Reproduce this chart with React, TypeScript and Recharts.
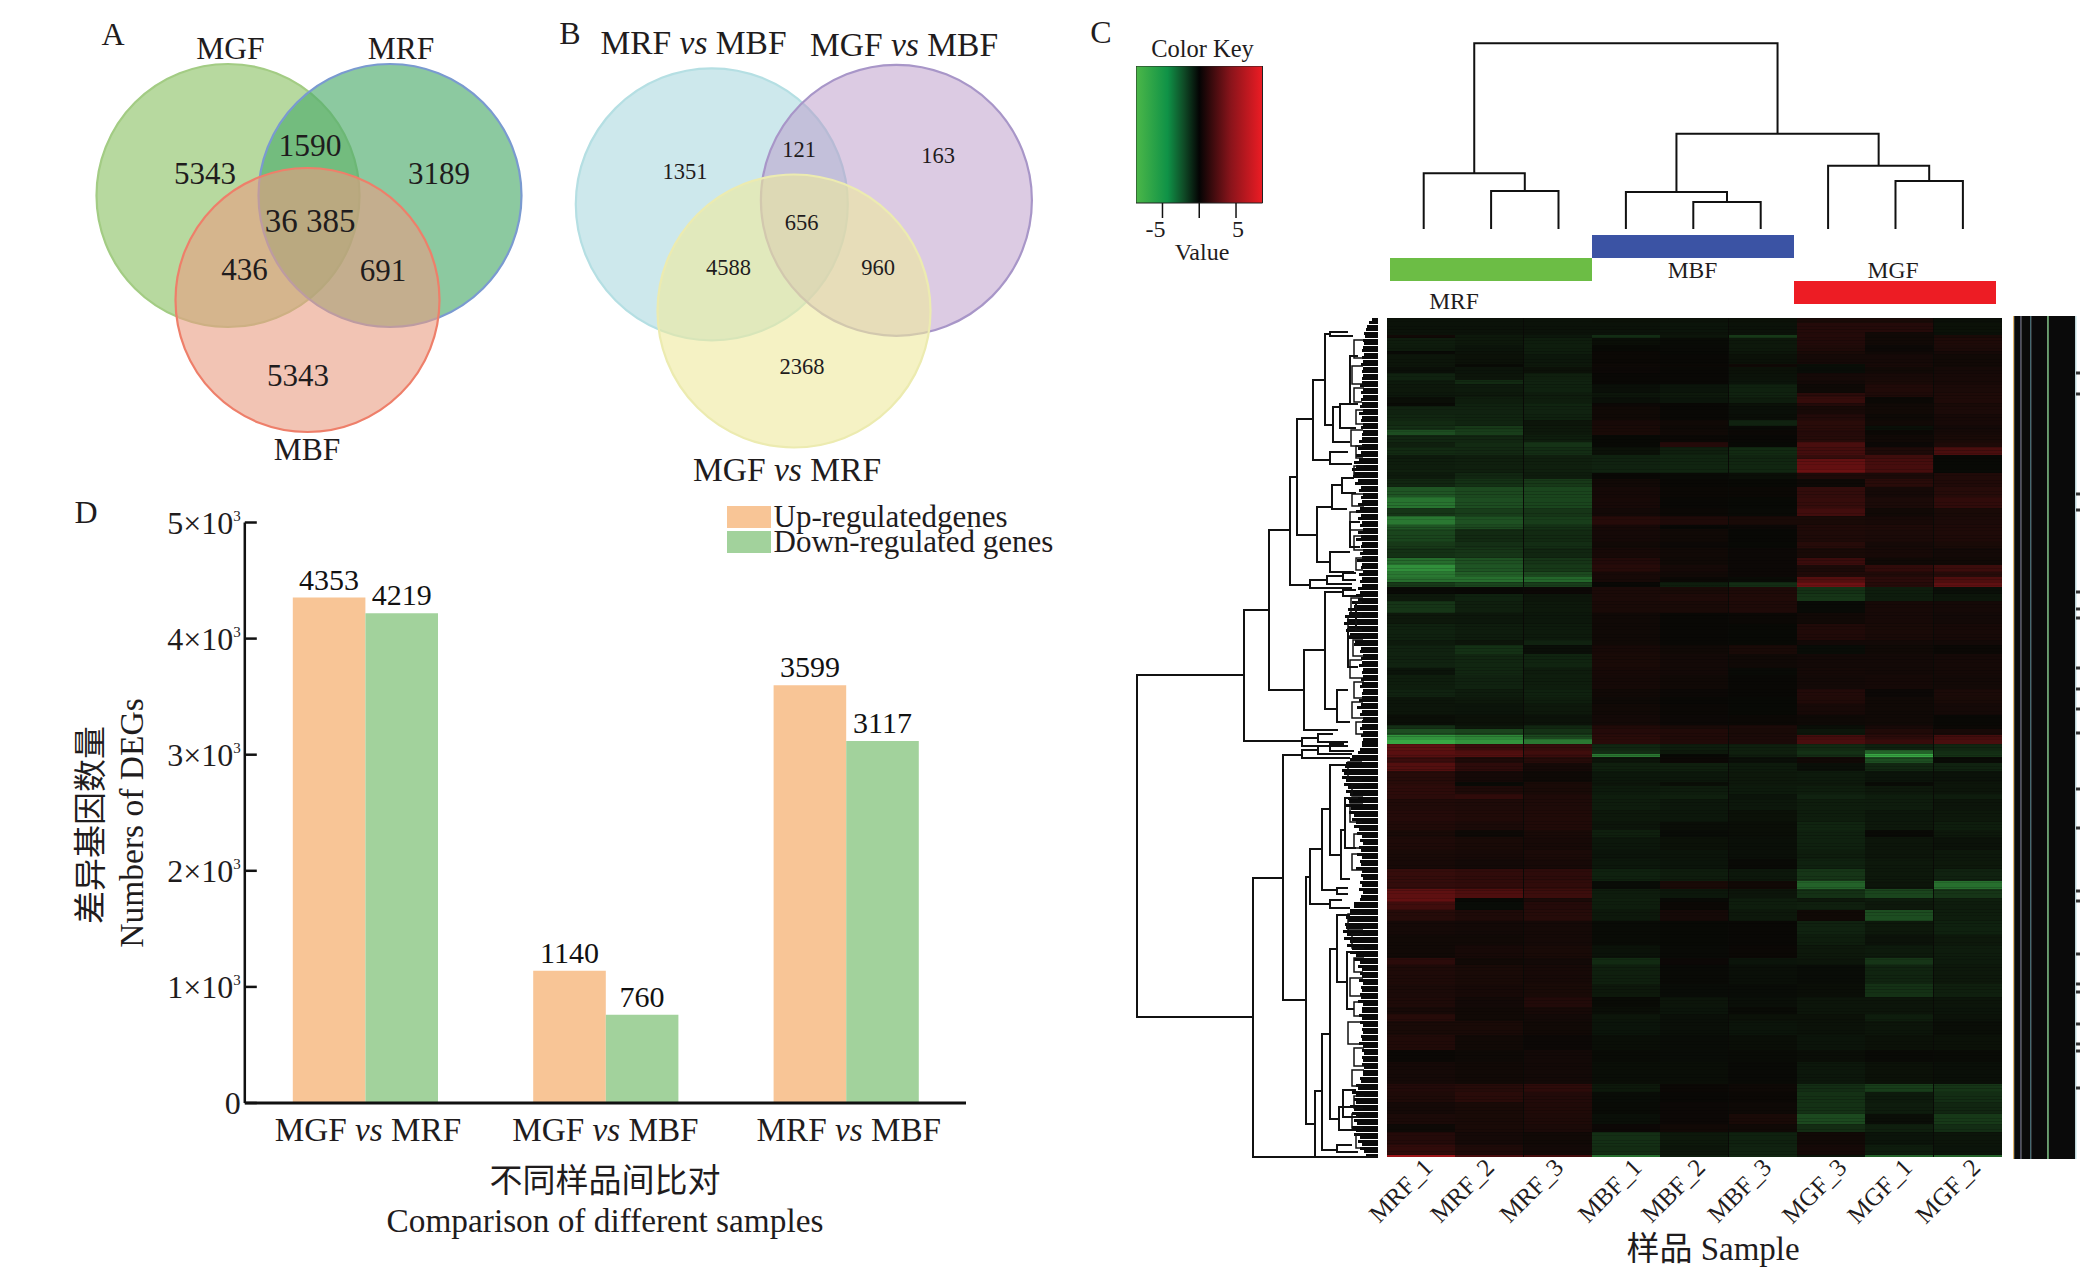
import React from "react";
import {
  Bar,
  BarChart,
  Cell,
  LabelList,
  Legend,
  Scatter,
  ScatterChart,
  XAxis,
  YAxis,
} from "recharts";

const SERIF = '"Liberation Serif", "Noto Sans CJK SC", serif';
const INK = "#1f1c1d";

// panel A / B venn sets
const vennSets = [
  { x: 228, y: 195.5, r: 131.5, fill: "#6fb33f", alpha: 0.5, stroke: "#a3cc84" },
  { x: 390, y: 195.5, r: 131.5, fill: "#4eac6d", alpha: 0.65, stroke: "#7a9ad0" },
  { x: 307.5, y: 300, r: 132, fill: "#e99d82", alpha: 0.6, stroke: "#ee7f6a" },
  { x: 711.8, y: 204.3, r: 136, fill: "#9bd1d9", alpha: 0.5, stroke: "#b5dfe3" },
  { x: 896.4, y: 200.3, r: 135.5, fill: "#b997c7", alpha: 0.5, stroke: "#a896c8" },
  { x: 794, y: 311, r: 136.5, fill: "#eeea9d", alpha: 0.6, stroke: "#ecebb0" },
];
const vennTextA = [
  { t: "A", x: 113, y: 45, s: 32 },
  { t: "MGF", x: 230.5, y: 59, s: 31.5 },
  { t: "MRF", x: 401, y: 59, s: 31.5 },
  { t: "MBF", x: 307, y: 460, s: 31.5 },
  { t: "5343", x: 205, y: 184, s: 31 },
  { t: "1590", x: 310, y: 156, s: 31.5 },
  { t: "3189", x: 439, y: 184, s: 31 },
  { t: "36 385", x: 310, y: 232, s: 33 },
  { t: "436", x: 244.5, y: 280, s: 31 },
  { t: "691", x: 383, y: 281, s: 31 },
  { t: "5343", x: 298, y: 386, s: 31 },
];
const vennTextB = [
  { t: "B", x: 570, y: 44, s: 32 },
  { t: "MRF vs MBF", x: 693.5, y: 54, s: 33.5 },
  { t: "MGF vs MBF", x: 904, y: 56, s: 33.5 },
  { t: "MGF vs MRF", x: 787, y: 481, s: 33.5 },
  { t: "1351", x: 685, y: 179, s: 22.5 },
  { t: "121", x: 799, y: 157, s: 22.5 },
  { t: "163", x: 938, y: 163, s: 22.5 },
  { t: "656", x: 801.6, y: 230, s: 22.5 },
  { t: "4588", x: 728.6, y: 275, s: 22.5 },
  { t: "960", x: 878, y: 275, s: 22.5 },
  { t: "2368", x: 802, y: 374, s: 22.5 },
];

// panel D
const comparisons = ["MGF vs MRF", "MGF vs MBF", "MRF vs MBF"];
const comparisonNudge = [3, 0, 3];
const upGenes = [4353, 1140, 3599];
const downGenes = [4219, 760, 3117];
const degTicks = [0, 1000, 2000, 3000, 4000, 5000];
const degData = comparisons.map((name, i) => ({ name, up: upGenes[i], down: downGenes[i] }));

// panel C, colour key
const keyTicks = [-5, 0, 5];
const keyData = [{ key: "value", range: [-8.6, 8.6] }];

// panel C, column tree: [left leaf, left height, right leaf, right height, merge height]
const columnMerges = [
  [1, 0, 2, 0, 38],
  [0, 0, 1.5, 38, 55.7],
  [4, 0, 5, 0, 27],
  [3, 0, 4.5, 27, 37],
  [7, 0, 8, 0, 48],
  [6, 0, 7.5, 48, 63.3],
  [3.75, 37, 6.75, 63.3, 95.3],
  [0.75, 55.7, 5.25, 95.3, 185.7],
];

const groups = ["MRF", "MBF", "MGF"];
const groupTracks = [1, 0, 2];
const groupColors = ["#6cbd45", "#3b53a4", "#ed1c24"];

const samples = ["MRF_1", "MRF_2", "MRF_3", "MBF_1", "MBF_2", "MBF_3", "MGF_3", "MGF_1", "MGF_2"];
const sampleNudge = [13, 6, 7, 17, 12, 10, 17, 14, 14];

// heat map rows, read top to bottom; spans count rows of genes, values are the colour key's
const spansA = [16, 26, 10, 8, 22, 18, 7, 30, 10, 17, 23, 10, 27, 13, 17, 10, 23, 20, 17, 13, 13, 22, 15, 23, 14, 30, 10, 18, 25, 30, 33, 25, 27];
const rowsA = [
  [-0.8, -0.8, -0.8, -0.7, -0.8, -0.7, 1, 1, -0.6],
  [-0.8, -0.8, -0.8, -0.8, -0.9, -0.8, 1.5, 1.5, -0.7],
  [-0.8, -0.8, -0.8, -0.8, -0.8, -0.8, 1.4, 0.6, -0.6],
  [0.6, -1.2, -1.1, -2.4, -1, -3, 1.5, 0.5, 1],
  [-1.4, -1.2, -1.5, -0.5, -0.3, -1.2, 1.4, 0.6, 1.2],
  [-1.3, -0.9, -1.5, -0.1, -0.2, -1.2, 1.2, 0.3, 1.1],
  [-0.2, -0.8, -1.4, 0.2, -0.1, -1, 1, 0.5, 0.8],
  [-1, -0.7, -1.1, 0.2, 0.1, -0.7, 0.8, 0.8, 0.6],
  [-1, -0.3, -1.2, 0.4, 0.2, 0.5, -0.5, 0.9, 0.6],
  [-0.6, -0.9, -0.7, 0.3, 0.1, -0.7, -0.4, 0.6, 0.8],
  [-1.8, -1, -1.6, 0.1, 0.1, -0.8, 0.8, 0.9, 0.9],
  [-1.3, -2.2, -1.8, 0.1, 0.1, -0.9, 0.7, 1, 0.9],
  [-1.2, -1.3, -1.7, -0.6, -0.9, -1.7, 0.4, 1.3, 1.1],
  [-1.1, -1.2, -1.4, -1, -1.2, -1.8, 1.8, 1.2, 1.2],
  [-0.5, -1.5, -1.5, -0.6, -0.9, -1.4, 2.2, 0.2, 1.2],
  [-0.3, -1.7, -1.9, 0.3, 0.1, -0.7, 1.4, 0.5, 1],
  [-1.8, -1.8, -1.8, 0.5, 0.1, -0.6, 0.9, 0.6, 1.1],
  [-2, -1.9, -1.7, 0.5, 0.1, -0.5, 1.4, 0.4, 0.9],
  [-2.2, -1.9, -1, 0.9, 0.5, -1.8, 1.7, 0.6, 0.9],
  [-2.5, -3, -1.2, 1, 0.4, -0.2, 1.7, -0.6, 0.7],
  [-4, -3.2, -1.2, 1, 0.5, 0.2, 1.5, 0.2, 0.8],
  [-2, -2, -1.5, -0.1, 0.2, 0.1, 1.6, 0.5, 1],
  [-1.6, -2.2, -2.7, -0.1, 1.5, -0.1, 3, 0.3, 1.2],
  [-2.2, -2.1, -2.4, -0.7, -1.6, -2.2, 2.8, 1.2, 3],
  [-1.3, -1.5, -1.6, -1.7, -1.9, -1.9, 2.2, 2.6, 0],
  [-1.5, -1.6, -1.6, -1.8, -1.9, -2, 4, 2.9, -0.1],
  [-1.6, -1.6, -1.6, -1.8, -1.9, -2, 4.3, 2.9, -0.2],
  [-1.3, -2, -1.4, 0.1, -0.2, -0.5, 1.2, 1.1, 1.3],
  [-2, -2.6, -3, 0.6, 0.1, -0.1, 0.4, 1.7, 1.3],
  [-4.4, -3.8, -3.6, 0.8, 0.2, 0.2, 2.1, 0.8, 1.6],
  [-5.8, -4, -3.6, 0.9, 0.1, -0.1, 2.2, 1.1, 2],
  [-2.8, -3.2, -2.8, 0.7, 0.2, -0.2, 2.7, 0.6, 1],
  [-6, -4.2, -3.2, 1.6, 1.2, 1, 1, 0.9, 1.1],
];

const spansB = [12, 38, 18, 30, 22, 20, 15, 15, 16, 19, 23, 34, 33, 50, 15, 25, 43, 22, 40, 25, 20, 33, 30, 12, 20];
const rowsB = [
  [-4.4, -3.8, -2.6, 0.9, 0, 0.3, 1.3, 1.2, 1.2],
  [-3.6, -2.2, -2.2, 0.8, 0.5, 0, 1.2, 1.1, 1.2],
  [-3, -2.5, -2.4, 0.6, 0.3, -0.1, 1.6, 0.8, 1],
  [-2.6, -2.8, -2, 0.9, 0.6, 0.3, 1, 0.9, 0.7],
  [-5.5, -4.2, -2.8, 1.4, 0.5, 0.3, 2.4, 0.5, 0.6],
  [-7, -4.4, -3, 1.6, 0.8, 0.3, 1.1, 2, 2.5],
  [-6, -4.8, -3.8, 0.9, 0.6, 0.3, 1.3, 1.3, 1.6],
  [-5.6, -5.6, -5.2, 0.9, 0.2, -0.3, 3.4, 1.8, 3.2],
  [-3, -3.6, -3.2, 0.1, -1.5, -2.4, 4.4, 1.6, 3.8],
  [-0.2, 0.1, 0.3, 1.1, 1, 1.2, -2.6, -1.5, -0.6],
  [-1.2, -1.7, -1, 1.1, 1.2, 1.3, -2.8, -1.4, -1],
  [-2.8, -1.6, -1.2, 1, 1, 1.2, -0.2, 0.9, 0.8],
  [-1.2, -1.1, -1.1, 0.5, 0.1, 0.2, 0.6, 0.9, 0.7],
  [-1.7, -1.4, -1.3, 0.5, 0.1, -0.1, 1.3, 1, 0.9],
  [-1.3, -1, -1.8, 0.5, 0.1, -0.1, 0.7, 0.7, 0.7],
  [-1.8, -2.6, -0.6, 0.9, 0.5, 1, -0.4, 0.5, 0.2],
  [-1.8, -2, -1.9, 1, 0.7, 0.5, 0.7, 0.7, 0.8],
  [-0.9, -2, -1.4, 0.9, 0.7, -0.2, 0.8, 0.7, 0.8],
  [-1.5, -1.8, -1.5, 0.8, 0.5, 0.1, 0.7, 0.8, 0.7],
  [-1.8, -1.4, -1.7, 0.6, 0.3, 0.1, 1.4, 0.3, 1.1],
  [-1, -1.2, -1.5, 0.4, 0.1, -0.1, 1.3, 0.5, 1],
  [-1, -0.9, -1.2, 0.6, 0.2, -0.1, 0.9, 0.5, 0.8],
  [-0.5, -0.7, -0.8, 0.7, 0.3, 0.2, 0.4, 0.5, 0.1],
  [-2.5, -1.2, -2, 1.3, 1, 1.1, -0.5, 0.9, 0.2],
  [-4, -3.5, -2.6, 1.5, 1.3, 1, -1, 1.3, 0.9],
];

const spansC = [12, 14, 19, 11, 10, 16, 26, 32, 12, 23, 17, 33, 35, 25, 20, 40, 27, 28, 38, 22, 28, 12, 25, 33, 42, 30];
const rowsC = [
  [-7.2, -6.6, -3.8, 1.7, 1.3, 1.1, 2.8, 1.8, 2.8],
  [-8, -7.2, -6, 1.7, 1.3, 1.1, 3, 2.3, 3],
  [3.8, 2.4, 2.2, -2, -1.4, -1.6, -2.2, -1.7, -2],
  [3.6, 3.2, 2.6, -2.4, -1.2, -1.6, -2.6, -5, -2.4],
  [3.5, 3.4, 2.4, -6, -0.1, -1.4, -2.4, -8, -2.6],
  [2.4, 1.2, 1.6, -1, 0.2, -0.6, 0.6, -4, -0.3],
  [3.4, 1.9, 0.8, -1.6, -1.6, -1.3, -0.6, -2, -1.8],
  [1.6, 0.8, 0.4, -1.1, -1.1, -1.2, -1.3, -0.9, -0.8],
  [1.7, -0.2, 1, -1, -0.5, -1.2, -1.2, -0.3, -1],
  [1.9, 1.2, 1, -1.3, -1.4, -1.3, -1.5, -1.2, -1],
  [1.8, 2, 1.2, -1.5, -1.6, -0.9, -1.8, -1.5, -1.4],
  [1.3, 1.2, 1.2, -1.4, -1.1, -1.1, -1.5, -1.4, -1],
  [1.5, 1.3, 1.3, -1.2, -1.1, -0.7, -1.5, -1.1, -1.2],
  [1.3, 1.1, 1.3, -1, -0.5, -0.5, -1.9, -1.2, -1.5],
  [1, 0.4, 1, -1.6, -0.4, -0.5, -1.7, -0.2, -1.2],
  [1.2, 1, 0.9, -1.1, -0.7, -0.6, -1.7, -1, -0.8],
  [1, 0.9, 1.1, -0.9, -0.9, -0.6, -1.5, -1, -1.2],
  [0.9, 0.7, 0.9, -1.1, -0.9, -0.2, -1.7, -1.2, -1.2],
  [2.2, 2, 1.9, -1.7, -1.4, -1.1, -2.8, -1.2, -1.8],
  [2.1, 2, 2, -0.4, 1, 0.6, -5, -1, -5.6],
  [3.8, 3.2, 2.5, -1.4, -1.1, -1, -2.6, -3.6, -2.8],
  [4, -0.1, 1.1, -1.6, -0.2, -1.5, -1.2, -1.4, -1.6],
  [2.6, -0.4, 1.5, -1.5, 0.2, -1.5, -1.6, -1.2, -1.4],
  [1.6, 1.2, 1.6, -1.2, 0.8, -1.2, 0.5, -4, -1.5],
  [0.8, 0.7, 0.8, -0.3, -0.1, 0.1, -1.8, -1.2, -1.7],
  [0.6, 0.6, 0.8, -0.3, -0.1, 0.1, -1.5, -0.8, -1.2],
];

const spansD = [38, 22, 55, 40, 30, 20, 23, 42, 45, 35, 65, 25, 30, 35, 30, 25, 40, 28, 7];
const rowsD = [
  [0.6, 0.9, 1, -0.8, -0.2, 0.2, -1.2, -1.3, -1.4],
  [1.8, 0.6, 0.7, -2.2, 0.3, -0.9, -1, -2.8, -1.3],
  [1.2, 1, 0.9, -1.6, -0.2, -0.6, -0.4, -1.9, -1.2],
  [1.1, 0.9, 1, -1.2, -0.4, -0.4, -0.5, -2.6, -1.6],
  [1.2, 0.7, 1.4, -0.3, -1, -0.6, -1, -1, -1],
  [0.9, 0.6, 0.9, -0.5, -0.9, -0.3, -1, -1, -0.9],
  [1.6, 0.6, 0.7, -1, -0.6, -0.7, -0.7, -1.5, -0.8],
  [1, 1, 0.6, -0.9, -0.6, -0.9, -0.8, -1, -0.5],
  [1.3, 0.6, 0.3, -0.5, -0.4, -0.5, -0.9, -0.7, -0.7],
  [0.2, 0.4, 0.7, -0.3, -0.4, -0.3, -0.5, -0.2, -0.3],
  [0.8, 0.6, 0.7, -0.5, -0.5, -0.2, -1.1, -0.7, -0.6],
  [1.4, 1.6, 1.9, -1.2, 0.2, 0.4, -2.4, -3.2, -2.8],
  [1.2, 1.7, 1.4, -0.4, 0.1, 0.2, -2.6, -1.3, -2.4],
  [0.8, 1, 1.3, -0.3, 0.3, 0.4, -2.6, -1.4, -2],
  [1.1, 1, 1.2, -0.6, 0.3, 1, -3.8, -0.5, -3],
  [0.4, 1, 1.1, 0.3, 0.6, 0.5, -2.3, -1.6, -2.4],
  [1.5, 0.8, 0.6, -2.5, -1.2, -1.7, 0.6, -0.9, -1],
  [2, 1.2, 0.7, -2.3, -1, -1.8, 0.8, -1.4, -0.9],
  [6, 3, 2.8, -5.5, -1.5, -2, -1, -5, -5],
];

const heatSpans = [...spansA, ...spansB, ...spansC, ...spansD];
const heatRows = [...rowsA, ...rowsB, ...rowsC, ...rowsD];
const heatTotal = heatSpans.reduce((a, b) => a + b, 0);
const heatData = samples.map((sample) => {
  const row: Record<string, any> = { sample };
  heatSpans.forEach((s, k) => (row["r" + k] = s));
  return row;
});

function heatColor(v: number) {
  const t = Math.pow(Math.min(1, Math.abs(v) / 8.6), 1.2);
  const to = v < 0 ? [60, 181, 74] : [237, 28, 36];
  const c = [8, 8, 5].map((b, i) => Math.round(b + (to[i] - b) * t));
  return `rgb(${c[0]},${c[1]},${c[2]})`;
}

// panel C, row tree: [height, top y, bottom y, top child height, bottom child height]
const rowMergesMain = [
  [241, 357, 699, 134, 125],
  [134, 292, 423, 109, 76],
  [125, 560, 839, 95, 0],
  [109, 212, 372, 88, 74],
  [88, 159, 267, 81, 68],
  [74, 332, 412, 53, 40],
  [81, 101, 217, 65, 61],
  [65, 62, 142, 53, 48],
  [61, 189, 244, 46, 48],
  [53, 16, 107, 48, 45],
  [48, 134, 146, 30, 26],
  [48, 14, 18, 30, 25],
  [45, 89, 124, 38, 28],
  [38, 86, 110, 24, 22],
  [28, 38, 86, 20, 20],
  [46, 167, 191, 36, 31],
  [36, 160, 175, 24, 22],
  [48, 234, 254, 28, 24],
  [28, 204, 229, 18, 18],
  [68, 262, 270, 51, 26],
  [51, 258, 266, 35, 26],
  [35, 255, 262, 22, 22],
  [53, 274, 391, 35, 41],
  [35, 272, 278, 22, 22],
  [41, 372, 404, 30, 28],
  [30, 311, 349, 22, 20],
  [22, 284, 312, 16, 16],
  [76, 420, 428, 60, 30],
  [60, 416, 424, 45, 30],
  [95, 437, 682, 76, 72],
  [76, 432, 440, 60, 28],
  [60, 428, 436, 48, 26],
  [48, 426, 433, 34, 24],
  [72, 559, 806, 68, 63],
  [68, 531, 586, 56, 48],
  [56, 491, 572, 48, 41],
  [48, 447, 537, 30, 37],
  [37, 512, 561, 33, 28],
  [33, 480, 530, 20, 22],
  [41, 570, 576, 30, 30],
  [48, 582, 590, 36, 28],
  [63, 773, 839, 56, 0],
  [56, 716, 832, 48, 41],
  [48, 631, 801, 41, 39],
  [41, 597, 664, 28, 31],
  [31, 634, 691, 22, 24],
  [39, 789, 812, 24, 22],
  [35, 772, 799, 22, 20],
  [41, 827, 834, 26, 20],
];
const rowMergesSmall = [
  [24, 22, 40, 14, 15], [26, 48, 66, 15, 14], [24, 70, 84, 14, 16], [22, 92, 106, 14, 15], [27, 112, 128, 15, 14],
  [22, 128, 140, 14, 15], [24, 148, 158, 14, 15], [26, 176, 188, 15, 14], [28, 194, 212, 16, 15], [24, 218, 232, 14, 14],
  [22, 240, 252, 14, 15], [27, 280, 296, 15, 16], [30, 298, 318, 16, 15], [25, 322, 338, 15, 14], [28, 342, 360, 16, 15],
  [24, 364, 380, 14, 15], [26, 384, 400, 15, 14], [22, 404, 416, 14, 14], [30, 444, 462, 16, 16], [26, 466, 478, 14, 15],
  [28, 486, 504, 15, 16], [24, 516, 530, 14, 15], [26, 536, 552, 15, 14], [30, 596, 612, 16, 15], [26, 616, 630, 15, 14],
  [24, 640, 654, 14, 15], [28, 660, 678, 15, 16], [24, 684, 698, 14, 15], [30, 704, 726, 16, 15], [24, 730, 748, 14, 14],
  [26, 752, 768, 14, 15], [24, 778, 790, 14, 15], [26, 796, 810, 14, 15], [22, 816, 830, 14, 14],
];
const rowMerges = [...rowMergesMain, ...rowMergesSmall];

// outline of the tightly packed leaves, top to bottom
const leafDepth = [
  6, 9, 11, 12, 14, 13, 15, 14, 15, 16, 14, 16, 15, 17, 15, 16, 15, 16, 16, 18, 15, 17, 15, 17, 16, 18, 15, 19, 16, 17,
  15, 17, 15, 16, 16, 19, 16, 20, 17, 22, 19, 24, 22, 26, 24, 25, 20, 23, 17, 19, 15, 17, 16, 20, 18, 22, 17, 20, 16, 18,
  15, 20, 17, 22, 16, 17, 15, 18, 16, 21, 16, 17, 15, 19, 16, 18, 16, 20, 18, 22, 20, 26, 24, 30, 29, 33, 31, 34, 30, 32,
  28, 30, 23, 24, 17, 18, 15, 17, 16, 19, 15, 16, 15, 17, 16, 18, 15, 16, 16, 19, 17, 21, 16, 18, 15, 16, 16, 18, 15, 17,
  15, 16, 16, 18, 20, 26, 28, 32, 33, 36, 34, 36, 32, 34, 30, 32, 28, 30, 29, 33, 27, 29, 24, 26, 22, 24, 19, 21, 16, 18,
  15, 19, 17, 21, 16, 18, 17, 22, 16, 17, 15, 18, 16, 19, 15, 17, 18, 24, 24, 28, 28, 32, 30, 33, 32, 35, 31, 34, 28, 31,
  26, 28, 22, 24, 18, 20, 16, 18, 16, 19, 15, 17, 16, 18, 17, 20, 15, 16, 16, 19, 16, 18, 15, 16, 15, 17, 16, 19, 15, 16,
  14, 16, 15, 16, 14, 15, 15, 18, 17, 22, 20, 26, 22, 24, 22, 28, 24, 26, 22, 24, 21, 26, 22, 24, 18, 20, 16, 18, 14, 12,
];
const leafData = leafDepth.map((depth, row) => ({ row, depth }));

// strip panel right of the heat map
const stripWidths = [1.2, 6.2, 1, 8.8, 1, 16.2, 1.4, 26.5, 1.2];
const stripColors = ["#e5b565", "#0a0a0a", "#1c1c3a", "#0a0a0a", "#24505a", "#0a0a0a", "#4f9d55", "#0a0a0a", "#c4e4ea"];
const stripData = [Object.fromEntries([["name", "strip"], ...stripWidths.map((w, i) => ["s" + i, w])])];
const stripSpecks = [57, 78, 178, 194, 276, 293, 302, 352, 373, 393, 417, 473, 512, 575, 585, 638, 668, 676, 708, 728, 735, 772];

const pageText = [
  { t: "C", x: 1101, y: 43, s: 32 },
  { t: "Color Key", x: 1202.5, y: 57, s: 24.5 },
  { t: "Value", x: 1202, y: 260, s: 24 },
  { t: "MRF", x: 1454, y: 309, s: 23.5 },
  { t: "MBF", x: 1692.5, y: 278, s: 23.5 },
  { t: "MGF", x: 1893, y: 278, s: 23.5 },
  { t: "样品 Sample", x: 1713, y: 1260, s: 33 },
  { t: "D", x: 86, y: 523, s: 32 },
  { t: "不同样品间比对", x: 605, y: 1192, s: 33 },
  { t: "Comparison of different samples", x: 605, y: 1232, s: 33.3 },
];

function VsText({ t, ...rest }: any) {
  const parts = String(t).split(" vs ");
  return (
    <text textAnchor="middle" fontFamily={SERIF} fill={INK} {...rest}>
      {parts.length === 2 ? (
        <>
          {parts[0] + " "}
          <tspan fontStyle="italic">vs</tspan>
          {" " + parts[1]}
        </>
      ) : (
        t
      )}
    </text>
  );
}

const Box = ({ left, top, children }: any) => <div style={{ position: "absolute", left, top }}>{children}</div>;
const noDot = () => <g />;

function VennPanel() {
  return (
    <ScatterChart width={1080} height={490} margin={{ top: 0, right: 0, bottom: 0, left: 0 }}>
      <XAxis type="number" dataKey="x" domain={[0, 1080]} hide />
      <YAxis type="number" dataKey="y" domain={[0, 490]} reversed hide />
      <Scatter
        data={vennSets}
        isAnimationActive={false}
        shape={(p: any) => (
          <circle
            cx={p.cx}
            cy={p.cy}
            r={p.payload.r}
            fill={p.payload.fill}
            fillOpacity={p.payload.alpha}
            stroke={p.payload.stroke}
            strokeWidth={2.2}
          />
        )}
      />
      {[vennTextA, vennTextB].map((labels, i) => (
        <Scatter
          key={i}
          data={labels}
          isAnimationActive={false}
          shape={(p: any) => <VsText x={p.cx} y={p.cy} t={p.payload.t} fontSize={p.payload.s} />}
        />
      ))}
    </ScatterChart>
  );
}

function DegYTick({ x, y, payload }: any) {
  const v = payload.value;
  return (
    <g>
      <line x1={x} x2={x + 12} y1={y} y2={y} stroke="#111" strokeWidth={2.5} />
      <text x={x - 4} y={y + 11} textAnchor="end" fontFamily={SERIF} fontSize={32} fill={INK}>
        {v === 0 ? "0" : `${v / 1000}×10`}
        {v !== 0 && (
          <tspan fontSize={15} dy={-13}>
            3
          </tspan>
        )}
      </text>
    </g>
  );
}

const DegXTick = ({ x, y, payload, index }: any) => (
  <VsText x={x + comparisonNudge[index]} y={y + 38} t={payload.value} fontSize={33.2} />
);

function DegLegend() {
  const rows = [
    ["Up-regulatedgenes", "#f8c596"],
    ["Down-regulated genes", "#a2d29c"],
  ];
  return (
    <div style={{ fontFamily: SERIF, fontSize: 31, color: INK, lineHeight: "24.5px", whiteSpace: "nowrap" }}>
      {rows.map(([label, color]) => (
        <div key={label} style={{ display: "flex", alignItems: "center", height: 24.5 }}>
          <span style={{ width: 44, height: 22, background: color, marginRight: 3 }} />
          {label}
        </div>
      ))}
    </div>
  );
}

function DegPanel() {
  return (
    <BarChart
      width={1080}
      height={792}
      data={degData}
      barSize={72.6}
      barGap={0}
      margin={{ top: 42.5, right: 114, bottom: 0, left: 0 }}
    >
      <XAxis
        dataKey="name"
        height={169}
        tick={<DegXTick />}
        tickLine={false}
        tickSize={0}
        tickMargin={0}
        interval={0}
        axisLine={{ stroke: "#111", strokeWidth: 3 }}
      />
      <YAxis
        width={244.8}
        domain={[0, 5000]}
        ticks={degTicks}
        tick={<DegYTick />}
        tickLine={false}
        tickSize={0}
        tickMargin={0}
        axisLine={{ stroke: "#111", strokeWidth: 2.5 }}
      />
      <Legend
        layout="vertical"
        align="center"
        verticalAlign="middle"
        wrapperStyle={{ position: "absolute", left: 726.5, top: 25, width: 350 }}
        content={<DegLegend />}
      />
      <Bar dataKey="up" fill="#f8c596" isAnimationActive={false}>
        <LabelList dataKey="up" position="top" offset={8} fontFamily={SERIF} fontSize={30} fill="#111" />
      </Bar>
      <Bar dataKey="down" fill="#a2d29c" isAnimationActive={false}>
        <LabelList dataKey="down" position="top" offset={8} fontFamily={SERIF} fontSize={30} fill="#111" />
      </Bar>
      <text transform="translate(102,345) rotate(-90)" textAnchor="middle" fontFamily={SERIF} fontSize={33} fill={INK}>
        差异基因数量
      </text>
      <text transform="translate(143,343) rotate(-90)" textAnchor="middle" fontFamily={SERIF} fontSize={33.5} fill={INK}>
        Numbers of DEGs
      </text>
    </BarChart>
  );
}

const KeyTick = ({ x, y, payload }: any) => (
  <g>
    <line x1={x} x2={x} y1={y} y2={y + 15} stroke="#111" strokeWidth={1.5} />
    {payload.value !== 0 && (
      <text x={x + (payload.value < 0 ? -7 : 2)} y={y + 34} textAnchor="middle" fontFamily={SERIF} fontSize={24} fill={INK}>
        {payload.value}
      </text>
    )}
  </g>
);

function ColorKey() {
  return (
    <BarChart
      width={126.5}
      height={197}
      layout="vertical"
      data={keyData}
      barCategoryGap={0}
      margin={{ top: 0, right: 0, bottom: 0, left: 0 }}
    >
      <defs>
        <linearGradient id="colorKey" x1="0" x2="1" y1="0" y2="0">
          <stop offset="0" stopColor="#4cb748" />
          <stop offset="0.25" stopColor="#0f9247" />
          <stop offset="0.38" stopColor="#0f4a26" />
          <stop offset="0.5" stopColor="#040404" />
          <stop offset="0.75" stopColor="#8a141b" />
          <stop offset="1" stopColor="#ed1c24" />
        </linearGradient>
      </defs>
      <XAxis
        type="number"
        domain={[-8.6, 8.6]}
        ticks={keyTicks}
        height={60}
        tick={<KeyTick />}
        tickLine={false}
        tickSize={0}
        tickMargin={0}
        axisLine={false}
      />
      <YAxis type="category" dataKey="key" hide />
      <Bar dataKey="range" fill="url(#colorKey)" stroke="#222" strokeWidth={1} isAnimationActive={false} />
    </BarChart>
  );
}

function ColumnTree() {
  return (
    <ScatterChart width={606.6} height={191} margin={{ top: 0, right: 0, bottom: 0, left: 0 }}>
      <XAxis type="number" dataKey="x" domain={[-0.5, 8.5]} hide />
      <YAxis type="number" dataKey="y" domain={[0, 191]} hide />
      {columnMerges.map(([xa, ha, xb, hb, h], i) => (
        <Scatter
          key={i}
          data={[
            { x: xa, y: ha },
            { x: xa, y: h },
            { x: xb, y: h },
            { x: xb, y: hb },
          ]}
          line={{ stroke: "#111", strokeWidth: 2 }}
          shape={noDot}
          isAnimationActive={false}
        />
      ))}
    </ScatterChart>
  );
}

function GroupBars() {
  const data = groups.map((name, i) => ({ name, track: [groupTracks[i], groupTracks[i] + 1] }));
  return (
    <BarChart width={606} height={69} data={data} barCategoryGap={0} margin={{ top: 0, right: 0, bottom: 0, left: 0 }}>
      <XAxis dataKey="name" hide />
      <YAxis domain={[0, 3]} reversed hide />
      <Bar dataKey="track" isAnimationActive={false}>
        {groupColors.map((c) => (
          <Cell key={c} fill={c} />
        ))}
      </Bar>
    </BarChart>
  );
}

const SampleTick = ({ x, y, payload, index }: any) => (
  <text
    transform={`translate(${x + sampleNudge[index]},${y + 12}) rotate(-45)`}
    textAnchor="end"
    fontFamily={SERIF}
    fontSize={25}
    fill={INK}
  >
    {payload.value}
  </text>
);

function HeatMap() {
  return (
    <BarChart
      width={675}
      height={929}
      data={heatData}
      barCategoryGap={0}
      barGap={0}
      margin={{ top: 0, right: 0, bottom: 0, left: 60 }}
    >
      <XAxis
        dataKey="sample"
        height={90}
        interval={0}
        tick={<SampleTick />}
        tickLine={false}
        tickSize={0}
        tickMargin={0}
        axisLine={false}
      />
      <YAxis domain={[0, heatTotal]} reversed hide />
      {heatSpans.map((_, k) => (
        <Bar key={k} dataKey={"r" + k} stackId="heat" isAnimationActive={false} shapeRendering="crispEdges">
          {samples.map((s, i) => (
            <Cell key={s} fill={heatColor(heatRows[k][i])} />
          ))}
        </Bar>
      ))}
    </BarChart>
  );
}

function RowTreeLeaves() {
  return (
    <BarChart width={245} height={839} layout="vertical" data={leafData} barCategoryGap={0} margin={{ top: 0, right: 0, bottom: 0, left: 0 }}>
      <XAxis type="number" domain={[0, 245]} reversed hide />
      <YAxis type="category" dataKey="row" hide />
      <Bar dataKey="depth" fill="#0a0a0a" isAnimationActive={false} shapeRendering="crispEdges" />
    </BarChart>
  );
}

function RowTree() {
  return (
    <ScatterChart width={245} height={841} margin={{ top: 0, right: 0, bottom: 0, left: 0 }}>
      <XAxis type="number" dataKey="x" domain={[0, 245]} reversed hide />
      <YAxis type="number" dataKey="y" domain={[0, 841]} reversed hide />
      {rowMerges.map(([h, top, bottom, ha, hb], i) => (
        <Scatter
          key={i}
          data={[
            { x: ha, y: top },
            { x: h, y: top },
            { x: h, y: bottom },
            { x: hb, y: bottom },
          ]}
          line={{ stroke: "#111", strokeWidth: i < rowMergesMain.length ? 2 : 1.5 }}
          shape={noDot}
          isAnimationActive={false}
        />
      ))}
    </ScatterChart>
  );
}

function StripPanel() {
  return (
    <BarChart width={66} height={843} layout="vertical" data={stripData} barCategoryGap={0} margin={{ top: 0, right: 0, bottom: 0, left: 0 }}>
      <XAxis type="number" domain={[0, 66]} hide />
      <YAxis type="category" dataKey="name" hide />
      {stripWidths.map((_, i) => (
        <Bar key={i} dataKey={"s" + i} stackId="strip" fill={stripColors[i]} isAnimationActive={false} />
      ))}
    </BarChart>
  );
}

function StripSpecks() {
  const data = stripSpecks.map((y) => ({ x: 1, y }));
  return (
    <ScatterChart width={6} height={843} margin={{ top: 0, right: 0, bottom: 0, left: 0 }}>
      <XAxis type="number" dataKey="x" domain={[0, 2]} hide />
      <YAxis type="number" dataKey="y" domain={[0, 843]} reversed hide />
      <Scatter
        data={data}
        isAnimationActive={false}
        shape={(p: any) => <rect x={p.cx - 2} y={p.cy - 1.5} width={4} height={3} fill="#333" />}
      />
    </ScatterChart>
  );
}

export default function App() {
  return (
    <div style={{ position: "absolute", left: 0, top: 0, width: 2092, height: 1272, background: "#fff", overflow: "hidden" }}>
      <Box left={0} top={0}>
        <VennPanel />
      </Box>
      <Box left={0} top={480}>
        <DegPanel />
      </Box>
      <Box left={1136} top={66}>
        <ColorKey />
      </Box>
      <Box left={1389.8} top={37.5}>
        <ColumnTree />
      </Box>
      <Box left={1390} top={235}>
        <GroupBars />
      </Box>
      <Box left={1133} top={317.7}>
        <RowTreeLeaves />
      </Box>
      <Box left={1133} top={317.7}>
        <RowTree />
      </Box>
      <div style={{ position: "absolute", left: 1387, top: 317.7, width: 615, height: 839, background: "#0a0a07" }} />
      <Box left={1327} top={317.7}>
        <HeatMap />
      </Box>
      <div
        style={{
          position: "absolute",
          left: 1387,
          top: 317.7,
          width: 615,
          height: 839,
          background:
            "repeating-linear-gradient(to bottom, rgba(0,0,0,.2) 0 1px, transparent 1px 3px, rgba(0,0,0,.12) 3px 4px, transparent 4px 8px, rgba(0,0,0,.16) 8px 9px, transparent 9px 11px)",
        }}
      />
      <Box left={2012.5} top={316}>
        <StripPanel />
      </Box>
      <Box left={2075} top={316}>
        <StripSpecks />
      </Box>
      <svg width={2092} height={1272} style={{ position: "absolute", left: 0, top: 0, pointerEvents: "none" }}>
        {pageText.map((p) => (
          <VsText key={p.t} x={p.x} y={p.y} t={p.t} fontSize={p.s} />
        ))}
      </svg>
    </div>
  );
}
